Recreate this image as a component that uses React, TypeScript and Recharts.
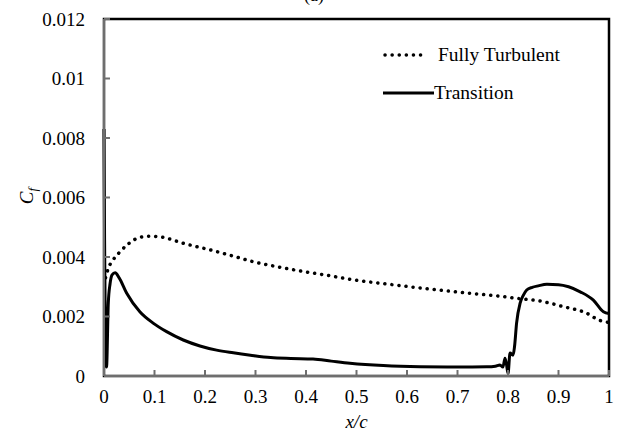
import { LineChart, Line, XAxis, YAxis, ReferenceArea } from 'recharts';

// x/c positions and skin friction values
const turbX = [0.003, 0.0085, 0.018, 0.032, 0.048, 0.071, 0.091, 0.117, 0.157, 0.21, 0.256, 0.296, 0.35, 0.395, 0.44, 0.487, 0.566, 0.646, 0.725, 0.78, 0.817, 0.86, 0.91, 0.956, 0.98, 1];
const turbCf = [0.0033, 0.00362, 0.0039, 0.00418, 0.00444, 0.00466, 0.0047, 0.00466, 0.00446, 0.00424, 0.00403, 0.00384, 0.00365, 0.00351, 0.00339, 0.00325, 0.00308, 0.00292, 0.00278, 0.00269, 0.00261, 0.00253, 0.00233, 0.00211, 0.00188, 0.0018];

const transX = [0, 0.001, 0.003, 0.005, 0.0085, 0.012, 0.016, 0.022, 0.03, 0.045, 0.071, 0.098, 0.124, 0.157, 0.19, 0.223, 0.256, 0.29, 0.33, 0.37, 0.414, 0.45, 0.487, 0.553, 0.626, 0.7, 0.758, 0.775, 0.784, 0.79, 0.794, 0.797, 0.8, 0.804, 0.81, 0.813, 0.817, 0.824, 0.83, 0.837, 0.848, 0.86, 0.877, 0.9, 0.92, 0.943, 0.969, 0.989, 1];
const transCf = [0.0083, 0.005, 0.0007, 0.0003, 0.00245, 0.0031, 0.0034, 0.00347, 0.0033, 0.00278, 0.00216, 0.00177, 0.00149, 0.00121, 0.00101, 0.00087, 0.00078, 0.0007, 0.00062, 0.00059, 0.00057, 0.0005, 0.00043, 0.00035, 0.00031, 0.0003, 0.00031, 0.00033, 0.00037, 0.0003, 0.0006, 0.0004, 0.00008, 0.00077, 0.0007, 0.001, 0.00178, 0.00245, 0.0027, 0.00289, 0.00298, 0.00303, 0.00308, 0.00307, 0.003, 0.00283, 0.00255, 0.00216, 0.0021];

const xTicks = [0, 0.1, 0.2, 0.3, 0.4, 0.5, 0.6, 0.7, 0.8, 0.9, 1];
const yTicks = [0, 0.002, 0.004, 0.006, 0.008, 0.01, 0.012];

const turbData = turbX.map((x, i) => ({ x, cf: turbCf[i] }));
const transData = transX.map((x, i) => ({ x, cf: transCf[i] }));

const font = 'Liberation Serif';
const tickStyle = { fontSize: 19, fill: '#000', fontFamily: font, style: { fontFamily: font } };

function LegendBox() {
  return (
    <svg width={220} height={60} style={{ overflow: 'visible', display: 'block' }}>
      <line x1={2} x2={43} y1={8} y2={8} stroke="#000" strokeWidth={3.5} strokeDasharray="0.1 7" strokeLinecap="round" />
      <text x={55} y={14} fontSize={19.5} style={{ fontFamily: font }}>Fully Turbulent</text>
      <line x1={0} x2={51} y1={46} y2={46} stroke="#000" strokeWidth={3} />
      <text x={51} y={52} fontSize={19.5} style={{ fontFamily: font }}>Transition</text>
    </svg>
  );
}

export default function App() {
  return (
    <div style={{ position: 'absolute', left: 0, top: 0, width: 618, height: 432, background: '#fff', fontFamily: font }}>
      <div style={{ position: 'absolute', left: 304, top: -15, fontSize: 18 }}>(a)</div>
      <div
        style={{
          position: 'absolute', left: 26, top: 196, fontSize: 19, fontStyle: 'italic', lineHeight: 1,
          transform: 'translate(-50%, -50%) rotate(-90deg)', whiteSpace: 'nowrap',
        }}
      >
        C<span style={{ fontSize: 13, position: 'relative', top: 4 }}>f</span>
      </div>
      <LineChart width={618} height={432} margin={{ top: 19, right: 9, bottom: 0, left: 0 }} style={{ fontFamily: font }}>
        <ReferenceArea x1={0} x2={1} y1={0} y2={0.012} fill="none" stroke="#000" strokeWidth={2.5} />
        <XAxis
          type="number"
          dataKey="x"
          domain={[0, 1]}
          ticks={xTicks}
          height={56}
          tickSize={-6}
          tickMargin={20}
          tick={tickStyle}
          stroke="#6e6e6e"
          strokeWidth={2}
          label={{ value: 'x/c', position: 'insideBottom', offset: 4, fontSize: 19, fontStyle: 'italic', fill: '#000', fontFamily: font }}
        />
        <YAxis
          type="number"
          domain={[0, 0.012]}
          ticks={yTicks}
          width={104}
          tickSize={-6}
          tickMargin={25}
          tick={tickStyle}
          stroke="#6e6e6e"
          strokeWidth={2}
        />
        <Line
          data={turbData}
          dataKey="cf"
          type="monotone"
          stroke="#000"
          strokeWidth={3.5}
          strokeDasharray="0.1 7"
          strokeLinecap="round"
          dot={false}
          isAnimationActive={false}
        />
        <Line
          data={transData}
          dataKey="cf"
          type="monotone"
          stroke="#000"
          strokeWidth={3}
          dot={false}
          isAnimationActive={false}
        />
      </LineChart>
      <div style={{ position: 'absolute', left: 383, top: 47 }}>
        <LegendBox />
      </div>
    </div>
  );
}
